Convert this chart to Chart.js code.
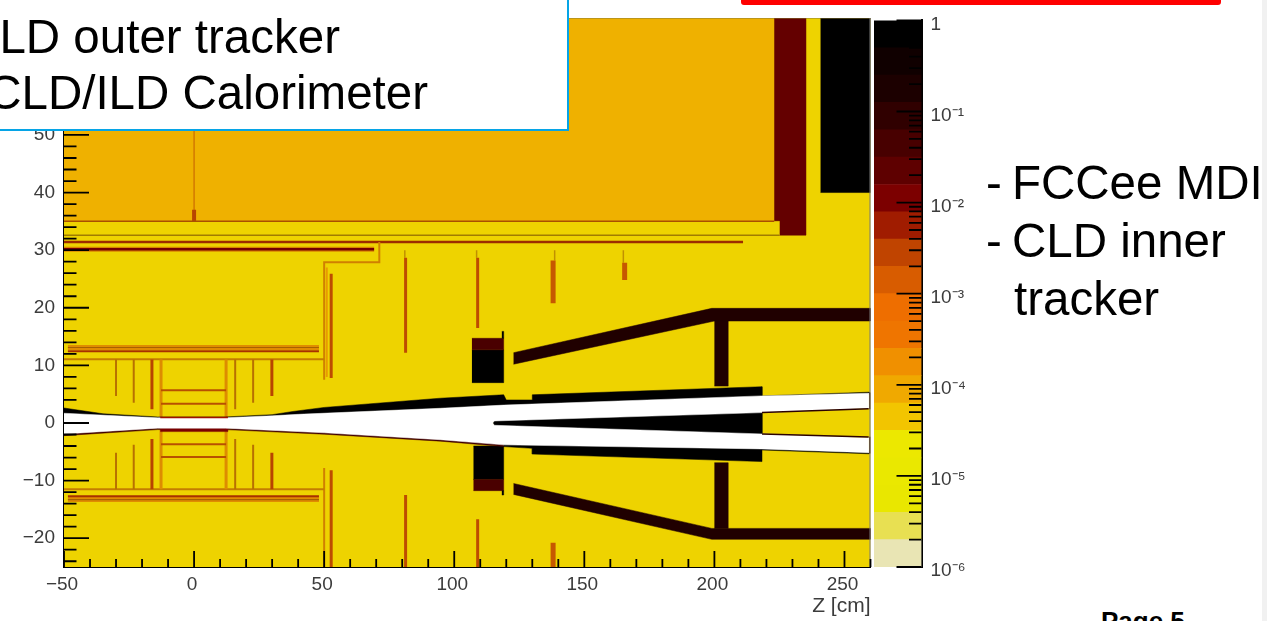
<!DOCTYPE html>
<html>
<head>
<meta charset="utf-8">
<title>Material map</title>
<script src="https://cdn.jsdelivr.net/npm/chart.js@4"></script>
<style>
  html, body { margin: 0; padding: 0; background: #fff; }
  body { position: relative; width: 1267px; height: 621px; overflow: hidden; font-family: "Liberation Sans", Arial, sans-serif; color: #000; }
  canvas { position: absolute; top: 0; filter: blur(0.5px); }
  #mapWrap { position: absolute; left: 0; top: 0; width: 872px; height: 621px; }
  #barWrap { position: absolute; left: 860px; top: 0; width: 122px; height: 621px; }
  .box { position: absolute; left: -6px; top: -6px; width: 571px; height: 133px; background: #fff; border: 2px solid #06a4e6; }
  .red { position: absolute; left: 741px; top: -20px; width: 470px; height: 15px; border: 5px solid #fe0000; border-radius: 3px; }
  .line { position: absolute; font-size: 47.5px; line-height: 57px; white-space: nowrap; filter: blur(0.4px); }
  .page { position: absolute; left: 1101px; top: 606px; font-size: 26px; line-height: 30px; font-weight: bold; white-space: nowrap; }
  .edge { position: absolute; left: 1262px; top: 0; width: 5px; height: 621px; background: #f1f1f1; }
</style>
</head>
<body>
<div id="mapWrap"><canvas id="mapChart"></canvas></div>
<div id="barWrap"><canvas id="barChart"></canvas></div>
<div class="box"></div>
<div class="line" style="right:927px;top:8px">LD outer tracker</div>
<div class="line" style="right:839px;top:64px">CLD/ILD Calorimeter</div>
<div class="red"></div>
<div class="line" style="left:986px;top:154px">-</div>
<div class="line" style="left:1012px;top:154px">FCCee MDI</div>
<div class="line" style="left:986px;top:212px">-</div>
<div class="line" style="left:1012px;top:212px">CLD inner</div>
<div class="line" style="left:1014px;top:270px">tracker</div>
<div class="page">Page 5</div>
<div class="edge"></div>
<script>
// Axis ticks
const xMajorTicks = [-50, 0, 50, 100, 150, 200, 250];
const xMinorTicks = [-40, -30, -20, -10, 10, 20, 30, 40, 60, 70, 80, 90, 110, 120, 130, 140, 160, 170, 180, 190, 210, 220, 230, 240, 260];
const yMajorTicks = [-20, -10, 0, 10, 20, 30, 40, 50, 60, 70];
const yMinorTicks = [-24, -22, -18, -16, -14, -12, -8, -6, -4, -2, 2, 4, 6, 8, 12, 14, 16, 18, 22, 24, 26, 28, 32, 34, 36, 38, 42, 44, 46, 48, 52, 54, 56, 58, 62, 64, 66, 68];

// Colour bar
const colorMajorTicks = [1e-6, 1e-5, 1e-4, 1e-3, 1e-2, 1e-1, 1];
const colorTickLabels = ['10⁻⁶', '10⁻⁵', '10⁻⁴', '10⁻³', '10⁻²', '10⁻¹', '1'];
const colorMinorTicks = [
  2e-6, 3e-6, 4e-6, 5e-6, 6e-6, 7e-6, 8e-6, 9e-6,
  2e-5, 3e-5, 4e-5, 5e-5, 6e-5, 7e-5, 8e-5, 9e-5,
  2e-4, 3e-4, 4e-4, 5e-4, 6e-4, 7e-4, 8e-4, 9e-4,
  2e-3, 3e-3, 4e-3, 5e-3, 6e-3, 7e-3, 8e-3, 9e-3,
  2e-2, 3e-2, 4e-2, 5e-2, 6e-2, 7e-2, 8e-2, 9e-2,
  0.2, 0.3, 0.4, 0.5, 0.6, 0.7, 0.8, 0.9
];
const colorBandEdges = [1e-6, 2e-6, 3.98e-6, 7.94e-6, 1.58e-5, 3.16e-5, 6.31e-5, 1.26e-4, 2.51e-4, 5.01e-4, 1e-3, 2e-3, 3.98e-3, 7.94e-3, 1.58e-2, 3.16e-2, 6.31e-2, 0.126, 0.251, 0.501, 1];
const colorBandColors = ['#e9e5b4', '#e8e052', '#e9e700', '#eae800', '#ece800', '#f2c500', '#f0a900', '#f09000', '#ef7500', '#ee6e00', '#d85c00', '#c04400', '#a01c00', '#7c0000', '#5e0000', '#480000', '#300000', '#1c0000', '#100000', '#000000'];

// Detector regions, Z and R in cm: [z0, z1, r0, r1]
const plotRegion = [-50, 260, -25, 70.3];
const calorimeterBlock = [-50, 223, 35, 70.3];
const endcapColumn = [223, 235.2, 32.6, 70.3];
const endcapGap = [222, 225, 32.6, 35];
const forwardBlock = [240.8, 260, 40, 70.3];
const maskUpperCore = [106.8, 119, 7, 12.7];
const maskUpperCap = [106.8, 119, 12.7, 14.7];
const maskUpperFin = [118.3, 119, 14.7, 15.9];
const maskLowerCore = [107.4, 119, -9.8, -4];
const maskLowerCap = [107.4, 119, -11.75, -9.8];
const maskLowerFin = [118.3, 119, -12.5, -11.75];
const strutUpper = [200, 205.3, 6.4, 17.7];
const strutLower = [200, 205.3, -18.3, -6.9];
const beamCoreLower = [-13, 13, -1.5, -0.9];

// Outlines, [z, r]
const supportConeUpper = [[122.8, 12.2], [199, 19.9], [260, 19.9], [260, 17.7], [200, 17.7], [122.8, 10.2]];
const supportConeLower = [[122.8, -10.5], [199, -18.3], [260, -18.3], [260, -20.2], [199, -20.2], [122.8, -12.4]];
const pipeWallUpper = [[-50, 2.6], [-35, 1.6], [-14, 1.05], [12, 1.05], [30, 1.45], [38, 2], [50, 2.7], [94.6, 4.3], [119, 4.9], [120, 4], [130, 4], [130, 4.9], [218.3, 6.3], [218.3, 4.7], [259.5, 5.35], [259.5, 5], [218, 4.5], [119, 3], [12, 0.8], [-14, 0.8], [-50, 1.5]];
const pipeWallLowerInner = [[-50, -2.2], [-14, -1.15], [12, -1.15], [50, -1.95], [94.6, -3.15], [119, -4.1], [119, -3.6], [94.6, -2.7], [50, -1.5], [12, -0.8], [-14, -0.8], [-50, -1.7]];
const pipeWallLowerOuter = [[119, -4.1], [130, -4.4], [130, -5.4], [218.3, -6.7], [218.3, -4.7], [259.5, -5.35], [259.5, -5], [218, -4.3], [119, -3.6]];
const centralWedge = [[114.8, 0], [115.4, 0.5], [218.3, 2], [218.3, -2.1], [115.4, -0.6]];
const beamVacuum = [[-50, 1.7], [-30, 1.25], [-14, 0.9], [12, 0.9], [30, 1.25], [40, 1.5], [94.6, 2.55], [119, 3.1], [218, 4.7], [259.3, 5.15], [259.3, 2.55], [218.3, 1.8], [115.4, 0.35], [114.8, 0], [115.4, -0.4], [218.3, -1.9], [259.3, -2.55], [259.3, -5.15], [218, -4.5], [119, -3.8], [94.6, -2.9], [50, -1.7], [12, -0.9], [-14, -0.9], [-50, -1.9]];

// Thin structures as polylines, [z, r]
const outerLines = [
  [[-50, 35], [223, 35]],
  [[-50, 32.6], [225, 32.6]]
];
const sheathLine = [[-50, 31.4], [211, 31.4]];
const barrelLine = [[-50, 30.15], [69.2, 30.15]];
const stepLine = [[71.2, 31.4], [71.2, 27.9], [50, 27.9], [50, 7.5]];
const stepLineLower = [[50, -7.8], [50, -25]];
const centreWire = [[0, 35], [0, 70.3]];
const centreStub = [[0, 35], [0, 37]];
const midDisks = [
  [[52.7, 25.9], [52.7, 7.8]],
  [[52.7, -8.2], [52.7, -25]],
  [[81.3, 28.7], [81.3, 12.2]],
  [[81.3, -12.5], [81.3, -25]],
  [[109, 28.7], [109, 16.5]],
  [[109, -16.7], [109, -25]]
];
const midDiskTops = [
  [[81, 30], [81, 28.7]],
  [[108.6, 30], [108.6, 28.7]],
  [[138.6, 30], [138.6, 28.2]],
  [[165, 30], [165, 27.8]]
];
const lightDisk = [[51, 27], [51, 8]];
const wideDisks = [
  [[138, 28.2], [138, 20.8]],
  [[138, -20.8], [138, -25]],
  [[165.5, 27.8], [165.5, 24.8]]
];
const innerBarrelLines = [
  [[-48.5, 13.1], [48, 13.1]],
  [[-48.5, -13.3], [48, -13.3]]
];
const innerBarrelRed = [
  [[-48.5, 12.45], [48, 12.45]],
  [[-48.5, -12.7], [48, -12.7]]
];
const innerShell = [
  [[-50, 11.05], [50, 11.05]],
  [[-50, -11.5], [50, -11.5]]
];
const vertexPaleDisks = [
  [[-12.7, 11], [-12.7, 1]],
  [[12.3, 11], [12.3, 1]],
  [[-12.7, -1], [-12.7, -11.5]],
  [[12.3, -1], [12.3, -11.5]]
];
const vertexBrownDisks = [
  [[-30, 11], [-30, 4.7]],
  [[-23.2, 11], [-23.2, 3.5]],
  [[15.8, 11], [15.8, 2.4]],
  [[22.7, 11], [22.7, 3.5]],
  [[-30, -5.15], [-30, -11.5]],
  [[-23.2, -3.8], [-23.2, -11.5]],
  [[15.8, -2.8], [15.8, -11.5]],
  [[22.7, -3.8], [22.7, -11.5]]
];
const vertexRedDisks = [
  [[-16.2, 11], [-16.2, 2.4]],
  [[29.9, 11], [29.9, 4.7]],
  [[-16.2, -2.8], [-16.2, -11.5]],
  [[29.9, -5.15], [29.9, -11.5]]
];
const vertexLayers = [
  [[-12.7, 5.7], [12.3, 5.7]],
  [[-12.7, 3.35], [12.3, 3.35]],
  [[-12.7, -3.7], [12.3, -3.7]],
  [[-12.7, -5.9], [12.3, -5.9]]
];
const beamCoreUpper = [[-13, 0.95], [13, 0.95]];
const channelEdges = [
  [[218.3, 1.8], [259.3, 2.45]],
  [[218.3, -1.9], [259.3, -2.45]],
  [[259.8, 2.4], [259.8, 5.3]],
  [[259.8, -2.4], [259.8, -5.3]]
];
const plotTopEdge = [[-50, 70.3], [260, 70.3]];
const plotRightEdge = [[260, 70.3], [260, -25]];

const YELLOW = '#eed300';
const ORANGE = '#efb100';
const datasets = [];

function toPoints(pairs) {
  return pairs.map(p => ({ x: p[0], y: p[1] }));
}

function box(b) {
  return [[b[0], b[2]], [b[1], b[2]], [b[1], b[3]], [b[0], b[3]]];
}

function addShape(pairs, color) {
  datasets.push({
    data: toPoints(pairs),
    showLine: true,
    fill: 'shape',
    backgroundColor: color,
    borderColor: color,
    borderWidth: 0.5,
    pointRadius: 0
  });
}

function addLine(pairs, color, width) {
  datasets.push({
    data: toPoints(pairs),
    showLine: true,
    fill: false,
    borderColor: color,
    borderWidth: width,
    pointRadius: 0
  });
}

// Paint order, back to front
addShape(box(plotRegion), YELLOW);
addShape(box(calorimeterBlock), ORANGE);
addLine(centreWire, '#cc6a00', 1.2);
addLine(centreStub, '#b84400', 4);
addShape(box(endcapColumn), '#640000');
addShape(box(endcapGap), YELLOW);
addShape(box(forwardBlock), '#000000');

outerLines.forEach((l, i) => addLine(l, i === 0 ? '#a85000' : '#a07c00', 1.5));
addLine(sheathLine, '#9c2c00', 2.5);
addLine(barrelLine, '#d88400', 5);
addLine(barrelLine, '#740000', 2.5);
addLine(stepLine, '#d08000', 2);
addLine(stepLineLower, '#d08000', 2);
addLine(lightDisk, '#e89a00', 2);
midDiskTops.forEach(l => addLine(l, '#c09000', 1.5));
midDisks.forEach(l => addLine(l, '#bd4c00', 3));
wideDisks.forEach(l => addLine(l, '#c65800', 5));

innerBarrelLines.forEach(l => addLine(l, '#e08c00', 5));
innerBarrelLines.forEach(l => addLine(l, '#a86000', 1.2));
innerBarrelRed.forEach(l => addLine(l, '#a83000', 2));
innerShell.forEach(l => addLine(l, '#c47c00', 2));
vertexPaleDisks.forEach(l => addLine(l, '#dd8c00', 3));
vertexBrownDisks.forEach(l => addLine(l, '#b87000', 2));
vertexRedDisks.forEach(l => addLine(l, '#b84400', 3));
vertexLayers.forEach(l => addLine(l, '#b85000', 2));

addShape(box(maskUpperCore), '#000000');
addShape(box(maskUpperCap), '#4a0000');
addShape(box(maskUpperFin), '#000000');
addShape(box(maskLowerCore), '#000000');
addShape(box(maskLowerCap), '#4a0000');
addShape(box(maskLowerFin), '#000000');
addShape(supportConeUpper, '#200000');
addShape(supportConeLower, '#200000');
addShape(box(strutUpper), '#200000');
addShape(box(strutLower), '#200000');

addShape(pipeWallUpper, '#000000');
addShape(pipeWallLowerInner, '#420000');
addShape(pipeWallLowerOuter, '#000000');
addShape(box(beamCoreLower), '#7a0000');
addShape(centralWedge, '#000000');
addShape(beamVacuum, '#ffffff');
addLine(beamCoreUpper, '#a01000', 1.5);
channelEdges.forEach(l => addLine(l, '#2a0000', 1.5));
addLine(plotTopEdge, '#8a7a30', 1);
addLine(plotRightEdge, '#777777', 2);

// Ticks point inward, so they are stroked over the marks
function strokeTicks(chart, scale, values, length) {
  const ctx = chart.ctx;
  const area = chart.chartArea;
  ctx.save();
  ctx.strokeStyle = '#000';
  ctx.lineWidth = 1.8;
  ctx.beginPath();
  values.forEach(v => {
    const p = scale.getPixelForValue(v);
    if (scale.axis === 'x') {
      ctx.moveTo(p, area.bottom);
      ctx.lineTo(p, area.bottom - length);
    } else if (scale.position === 'left') {
      ctx.moveTo(area.left, p);
      ctx.lineTo(area.left + length, p);
    } else {
      ctx.moveTo(area.right, p);
      ctx.lineTo(area.right - length, p);
    }
  });
  ctx.stroke();
  ctx.restore();
}

const mapTicks = {
  id: 'mapTicks',
  afterDatasetsDraw(chart) {
    const { x, y } = chart.scales;
    strokeTicks(chart, x, xMajorTicks, 16);
    strokeTicks(chart, x, xMinorTicks, 8);
    strokeTicks(chart, y, yMajorTicks, 25);
    strokeTicks(chart, y, yMinorTicks, 12.5);
  }
};

const barTicks = {
  id: 'barTicks',
  afterDatasetsDraw(chart) {
    const y = chart.scales.y;
    strokeTicks(chart, y, colorMajorTicks, 25);
    strokeTicks(chart, y, colorMinorTicks, 12.5);
  }
};

function setTicks(values) {
  return scale => {
    scale.ticks = values.map(value => ({ value }));
  };
}

const tickFont = { family: '"Liberation Sans", Arial, sans-serif', size: 19 };

new Chart(document.getElementById('mapChart'), {
  type: 'scatter',
  data: { datasets: datasets.reverse() },
  plugins: [mapTicks],
  options: {
    responsive: true,
    maintainAspectRatio: false,
    animation: false,
    layout: { padding: { top: 18, right: 1.5, left: 0, bottom: 0 } },
    plugins: { legend: { display: false }, tooltip: { enabled: false } },
    scales: {
      x: {
        type: 'linear',
        min: -50,
        max: 260,
        afterBuildTicks: setTicks(xMajorTicks),
        afterFit: s => { s.height = 54; s.paddingLeft = 0; s.paddingRight = 0; },
        grid: { display: false, drawTicks: false },
        border: { display: true, color: '#000', width: 2 },
        ticks: {
          autoSkip: false,
          maxRotation: 0,
          color: '#3c3c3c',
          font: tickFont,
          padding: 6,
          labelOffset: -2,
          callback: v => String(v).replace('-', '\u2212')
        },
        title: {
          display: true,
          text: 'Z [cm]',
          align: 'end',
          color: '#3c3c3c',
          font: { family: tickFont.family, size: 21 },
          padding: { top: 0, bottom: 2 }
        }
      },
      y: {
        type: 'linear',
        min: -25,
        max: 70.3,
        afterBuildTicks: setTicks(yMajorTicks),
        afterFit: s => { s.width = 64; s.paddingTop = 0; s.paddingBottom = 0; },
        grid: { display: false, drawTicks: false },
        border: { display: true, color: '#000', width: 2 },
        ticks: {
          autoSkip: false,
          color: '#3c3c3c',
          font: tickFont,
          padding: 9,
          callback: v => String(v).replace('-', '\u2212')
        }
      }
    }
  }
});

new Chart(document.getElementById('barChart'), {
  type: 'bar',
  data: {
    labels: [''],
    datasets: colorBandColors.map((color, i) => ({
      data: [[colorBandEdges[i], colorBandEdges[i + 1]]],
      backgroundColor: color,
      grouped: false,
      barPercentage: 1,
      categoryPercentage: 1
    }))
  },
  plugins: [barTicks],
  options: {
    responsive: true,
    maintainAspectRatio: false,
    animation: false,
    layout: { padding: { top: 18, left: 14, right: 0, bottom: 54 } },
    plugins: { legend: { display: false }, tooltip: { enabled: false } },
    scales: {
      x: { display: false },
      y: {
        type: 'logarithmic',
        position: 'right',
        min: 1e-6,
        max: 1,
        afterBuildTicks: setTicks(colorMajorTicks),
        afterFit: s => { s.width = 60.5; },
        grid: { display: false, drawTicks: false },
        border: { display: true, color: '#000', width: 2 },
        ticks: {
          autoSkip: false,
          color: '#3c3c3c',
          font: tickFont,
          padding: 9,
          labelOffset: 4,
          callback: (v, i) => colorTickLabels[i]
        }
      }
    }
  }
});
</script>
</body>
</html>
